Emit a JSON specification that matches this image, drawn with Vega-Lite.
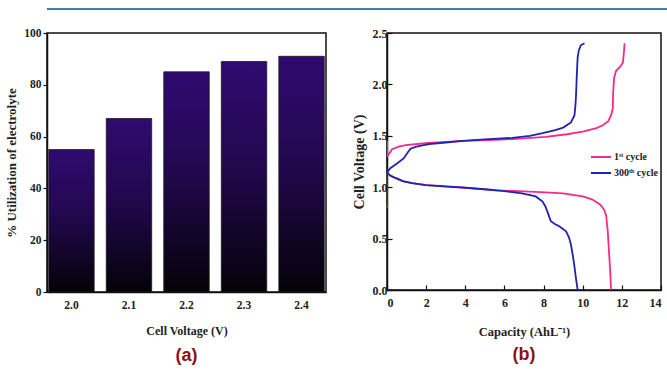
{
  "$schema": "https://vega.github.io/schema/vega-lite/v6.json",
  "background": "white",
  "padding": {"left": 5, "top": 7, "right": 0, "bottom": 0},
  "config": {
    "font": "Liberation Serif",
    "view": {"stroke": "#111", "strokeWidth": 1.5},
    "axis": {
      "grid": false,
      "domainColor": "#111",
      "domainWidth": 1.5,
      "tickColor": "#111",
      "tickWidth": 1.2,
      "labelFont": "Liberation Serif",
      "labelFontWeight": "bold",
      "labelColor": "#222",
      "titleFont": "Liberation Serif",
      "titleFontWeight": "bold",
      "titleColor": "#222"
    }
  },
  "spacing": 16,
  "vconcat": [
    {
      "width": 667,
      "height": 2,
      "data": {"values": [{}]},
      "mark": {"type": "rule", "opacity": 0},
      "encoding": {},
      "view": {"fill": "#4a78a8", "stroke": null}
    },
    {
      "spacing": 24,
      "hconcat": [
        {
          "width": 279,
          "height": 259,
          "data": {
            "values": [
              {"voltage": "2.0", "utilization": 55},
              {"voltage": "2.1", "utilization": 67},
              {"voltage": "2.2", "utilization": 85},
              {"voltage": "2.3", "utilization": 89},
              {"voltage": "2.4", "utilization": 91}
            ]
          },
          "title": {
            "text": "(a)",
            "orient": "bottom",
            "font": "Liberation Sans",
            "fontWeight": "bold",
            "fontSize": 18,
            "color": "#8b1212",
            "offset": 10
          },
          "mark": {
            "type": "bar",
            "stroke": "#1a1a1a",
            "strokeWidth": 0.8,
            "color": {
              "gradient": "linear",
              "x1": 0, "y1": 0, "x2": 0, "y2": 1,
              "stops": [
                {"offset": 0, "color": "#300a70"},
                {"offset": 0.45, "color": "#22084f"},
                {"offset": 1, "color": "#050208"}
              ]
            }
          },
          "encoding": {
            "x": {
              "field": "voltage",
              "type": "ordinal",
              "scale": {"paddingInner": 0.21, "paddingOuter": 0.03},
              "axis": {
                "title": "Cell Voltage (V)",
                "labelAngle": 0,
                "ticks": false,
                "labelPadding": 7,
                "labelFontSize": 11.5,
                "titleFontSize": 12,
                "titlePadding": 15
              }
            },
            "y": {
              "field": "utilization",
              "type": "quantitative",
              "scale": {"domain": [0, 100], "nice": false},
              "axis": {
                "title": "% Utilization of electrolyte",
                "values": [0, 20, 40, 60, 80, 100],
                "tickSize": 4,
                "labelPadding": 2,
                "labelFontSize": 11.5,
                "titleFontSize": 13,
                "titlePadding": 5
              }
            }
          }
        },
        {
          "width": 274,
          "height": 257,
          "data": {
            "values": [
              {"cycle": "1st cycle", "branch": "charge", "i": 1, "capacity": 0, "voltage": 1.45},
              {"cycle": "1st cycle", "branch": "charge", "i": 2, "capacity": 0, "voltage": 1.3},
              {"cycle": "1st cycle", "branch": "charge", "i": 3, "capacity": 0.05, "voltage": 1.31},
              {"cycle": "1st cycle", "branch": "charge", "i": 4, "capacity": 0.26, "voltage": 1.37},
              {"cycle": "1st cycle", "branch": "charge", "i": 5, "capacity": 0.6, "voltage": 1.395},
              {"cycle": "1st cycle", "branch": "charge", "i": 6, "capacity": 0.95, "voltage": 1.41},
              {"cycle": "1st cycle", "branch": "charge", "i": 7, "capacity": 2.1, "voltage": 1.43},
              {"cycle": "1st cycle", "branch": "charge", "i": 8, "capacity": 4.0, "voltage": 1.45},
              {"cycle": "1st cycle", "branch": "charge", "i": 9, "capacity": 5.55, "voltage": 1.46},
              {"cycle": "1st cycle", "branch": "charge", "i": 10, "capacity": 7.0, "voltage": 1.475},
              {"cycle": "1st cycle", "branch": "charge", "i": 11, "capacity": 8.1, "voltage": 1.49},
              {"cycle": "1st cycle", "branch": "charge", "i": 12, "capacity": 9.2, "voltage": 1.515},
              {"cycle": "1st cycle", "branch": "charge", "i": 13, "capacity": 10.0, "voltage": 1.54},
              {"cycle": "1st cycle", "branch": "charge", "i": 14, "capacity": 10.7, "voltage": 1.575},
              {"cycle": "1st cycle", "branch": "charge", "i": 15, "capacity": 11.0, "voltage": 1.6},
              {"cycle": "1st cycle", "branch": "charge", "i": 16, "capacity": 11.3, "voltage": 1.64},
              {"cycle": "1st cycle", "branch": "charge", "i": 17, "capacity": 11.45, "voltage": 1.7},
              {"cycle": "1st cycle", "branch": "charge", "i": 18, "capacity": 11.54, "voltage": 1.77},
              {"cycle": "1st cycle", "branch": "charge", "i": 19, "capacity": 11.55, "voltage": 1.9},
              {"cycle": "1st cycle", "branch": "charge", "i": 20, "capacity": 11.6, "voltage": 2.06},
              {"cycle": "1st cycle", "branch": "charge", "i": 21, "capacity": 11.7, "voltage": 2.13},
              {"cycle": "1st cycle", "branch": "charge", "i": 22, "capacity": 11.9, "voltage": 2.17},
              {"cycle": "1st cycle", "branch": "charge", "i": 23, "capacity": 12.05, "voltage": 2.21},
              {"cycle": "1st cycle", "branch": "charge", "i": 24, "capacity": 12.1, "voltage": 2.3},
              {"cycle": "1st cycle", "branch": "charge", "i": 25, "capacity": 12.14, "voltage": 2.4},
              {"cycle": "1st cycle", "branch": "discharge", "i": 1, "capacity": 0, "voltage": 0.8},
              {"cycle": "1st cycle", "branch": "discharge", "i": 2, "capacity": 0, "voltage": 1.14},
              {"cycle": "1st cycle", "branch": "discharge", "i": 3, "capacity": 0.2, "voltage": 1.11},
              {"cycle": "1st cycle", "branch": "discharge", "i": 4, "capacity": 0.43, "voltage": 1.09},
              {"cycle": "1st cycle", "branch": "discharge", "i": 5, "capacity": 0.8, "voltage": 1.06},
              {"cycle": "1st cycle", "branch": "discharge", "i": 6, "capacity": 1.28, "voltage": 1.04},
              {"cycle": "1st cycle", "branch": "discharge", "i": 7, "capacity": 2.0, "voltage": 1.02},
              {"cycle": "1st cycle", "branch": "discharge", "i": 8, "capacity": 3.0, "voltage": 1.01},
              {"cycle": "1st cycle", "branch": "discharge", "i": 9, "capacity": 4.2, "voltage": 0.99},
              {"cycle": "1st cycle", "branch": "discharge", "i": 10, "capacity": 5.55, "voltage": 0.97},
              {"cycle": "1st cycle", "branch": "discharge", "i": 11, "capacity": 7.0, "voltage": 0.96},
              {"cycle": "1st cycle", "branch": "discharge", "i": 12, "capacity": 8.1, "voltage": 0.95},
              {"cycle": "1st cycle", "branch": "discharge", "i": 13, "capacity": 9.0, "voltage": 0.94},
              {"cycle": "1st cycle", "branch": "discharge", "i": 14, "capacity": 9.5, "voltage": 0.925},
              {"cycle": "1st cycle", "branch": "discharge", "i": 15, "capacity": 10.0, "voltage": 0.91},
              {"cycle": "1st cycle", "branch": "discharge", "i": 16, "capacity": 10.5, "voltage": 0.88},
              {"cycle": "1st cycle", "branch": "discharge", "i": 17, "capacity": 10.9, "voltage": 0.83},
              {"cycle": "1st cycle", "branch": "discharge", "i": 18, "capacity": 11.1, "voltage": 0.78},
              {"cycle": "1st cycle", "branch": "discharge", "i": 19, "capacity": 11.2, "voltage": 0.72},
              {"cycle": "1st cycle", "branch": "discharge", "i": 20, "capacity": 11.28, "voltage": 0.57},
              {"cycle": "1st cycle", "branch": "discharge", "i": 21, "capacity": 11.35, "voltage": 0.35},
              {"cycle": "1st cycle", "branch": "discharge", "i": 22, "capacity": 11.4, "voltage": 0.2},
              {"cycle": "1st cycle", "branch": "discharge", "i": 23, "capacity": 11.45, "voltage": 0.0},
              {"cycle": "300th cycle", "branch": "charge", "i": 1, "capacity": 0, "voltage": 1.14},
              {"cycle": "300th cycle", "branch": "charge", "i": 2, "capacity": 0.17, "voltage": 1.185},
              {"cycle": "300th cycle", "branch": "charge", "i": 3, "capacity": 0.51, "voltage": 1.23},
              {"cycle": "300th cycle", "branch": "charge", "i": 4, "capacity": 0.85, "voltage": 1.28},
              {"cycle": "300th cycle", "branch": "charge", "i": 5, "capacity": 1.03, "voltage": 1.33},
              {"cycle": "300th cycle", "branch": "charge", "i": 6, "capacity": 1.2, "voltage": 1.375},
              {"cycle": "300th cycle", "branch": "charge", "i": 7, "capacity": 1.5, "voltage": 1.395},
              {"cycle": "300th cycle", "branch": "charge", "i": 8, "capacity": 2.14, "voltage": 1.42},
              {"cycle": "300th cycle", "branch": "charge", "i": 9, "capacity": 3.0, "voltage": 1.435},
              {"cycle": "300th cycle", "branch": "charge", "i": 10, "capacity": 3.85, "voltage": 1.45},
              {"cycle": "300th cycle", "branch": "charge", "i": 11, "capacity": 5.0, "voltage": 1.465},
              {"cycle": "300th cycle", "branch": "charge", "i": 12, "capacity": 6.4, "voltage": 1.48},
              {"cycle": "300th cycle", "branch": "charge", "i": 13, "capacity": 7.3, "voltage": 1.5},
              {"cycle": "300th cycle", "branch": "charge", "i": 14, "capacity": 7.95, "voltage": 1.525},
              {"cycle": "300th cycle", "branch": "charge", "i": 15, "capacity": 8.6, "voltage": 1.555},
              {"cycle": "300th cycle", "branch": "charge", "i": 16, "capacity": 9.0, "voltage": 1.58},
              {"cycle": "300th cycle", "branch": "charge", "i": 17, "capacity": 9.4, "voltage": 1.63},
              {"cycle": "300th cycle", "branch": "charge", "i": 18, "capacity": 9.58, "voltage": 1.7},
              {"cycle": "300th cycle", "branch": "charge", "i": 19, "capacity": 9.63, "voltage": 1.8},
              {"cycle": "300th cycle", "branch": "charge", "i": 20, "capacity": 9.66, "voltage": 1.9},
              {"cycle": "300th cycle", "branch": "charge", "i": 21, "capacity": 9.7, "voltage": 2.1},
              {"cycle": "300th cycle", "branch": "charge", "i": 22, "capacity": 9.74, "voltage": 2.26},
              {"cycle": "300th cycle", "branch": "charge", "i": 23, "capacity": 9.8, "voltage": 2.33},
              {"cycle": "300th cycle", "branch": "charge", "i": 24, "capacity": 9.9, "voltage": 2.38},
              {"cycle": "300th cycle", "branch": "charge", "i": 25, "capacity": 10.09, "voltage": 2.4},
              {"cycle": "300th cycle", "branch": "discharge", "i": 1, "capacity": 0, "voltage": 0.82},
              {"cycle": "300th cycle", "branch": "discharge", "i": 2, "capacity": 0, "voltage": 1.14},
              {"cycle": "300th cycle", "branch": "discharge", "i": 3, "capacity": 0.2, "voltage": 1.11},
              {"cycle": "300th cycle", "branch": "discharge", "i": 4, "capacity": 0.43, "voltage": 1.09},
              {"cycle": "300th cycle", "branch": "discharge", "i": 5, "capacity": 0.8, "voltage": 1.06},
              {"cycle": "300th cycle", "branch": "discharge", "i": 6, "capacity": 1.28, "voltage": 1.04},
              {"cycle": "300th cycle", "branch": "discharge", "i": 7, "capacity": 2.0, "voltage": 1.02},
              {"cycle": "300th cycle", "branch": "discharge", "i": 8, "capacity": 3.0, "voltage": 1.005},
              {"cycle": "300th cycle", "branch": "discharge", "i": 9, "capacity": 3.85, "voltage": 0.997},
              {"cycle": "300th cycle", "branch": "discharge", "i": 10, "capacity": 5.0, "voltage": 0.98},
              {"cycle": "300th cycle", "branch": "discharge", "i": 11, "capacity": 5.9, "voltage": 0.964},
              {"cycle": "300th cycle", "branch": "discharge", "i": 12, "capacity": 6.9, "voltage": 0.94},
              {"cycle": "300th cycle", "branch": "discharge", "i": 13, "capacity": 7.6, "voltage": 0.91},
              {"cycle": "300th cycle", "branch": "discharge", "i": 14, "capacity": 7.95, "voltage": 0.86},
              {"cycle": "300th cycle", "branch": "discharge", "i": 15, "capacity": 8.1, "voltage": 0.81},
              {"cycle": "300th cycle", "branch": "discharge", "i": 16, "capacity": 8.2, "voltage": 0.76},
              {"cycle": "300th cycle", "branch": "discharge", "i": 17, "capacity": 8.37, "voltage": 0.67},
              {"cycle": "300th cycle", "branch": "discharge", "i": 18, "capacity": 8.6, "voltage": 0.64},
              {"cycle": "300th cycle", "branch": "discharge", "i": 19, "capacity": 8.8, "voltage": 0.62},
              {"cycle": "300th cycle", "branch": "discharge", "i": 20, "capacity": 9.15, "voltage": 0.57},
              {"cycle": "300th cycle", "branch": "discharge", "i": 21, "capacity": 9.3, "voltage": 0.51},
              {"cycle": "300th cycle", "branch": "discharge", "i": 22, "capacity": 9.4, "voltage": 0.44},
              {"cycle": "300th cycle", "branch": "discharge", "i": 23, "capacity": 9.5, "voltage": 0.33},
              {"cycle": "300th cycle", "branch": "discharge", "i": 24, "capacity": 9.57, "voltage": 0.24},
              {"cycle": "300th cycle", "branch": "discharge", "i": 25, "capacity": 9.65, "voltage": 0.12},
              {"cycle": "300th cycle", "branch": "discharge", "i": 26, "capacity": 9.74, "voltage": 0.0}
            ]
          },
          "title": {
            "text": "(b)",
            "orient": "bottom",
            "font": "Liberation Sans",
            "fontWeight": "bold",
            "fontSize": 18,
            "color": "#8b1212",
            "offset": 8
          },
          "mark": {"type": "line", "strokeWidth": 1.8, "clip": true},
          "encoding": {
            "x": {
              "field": "capacity",
              "type": "quantitative",
              "scale": {"domain": [0, 14], "nice": false},
              "axis": {
                "title": "Capacity (AhL⁻¹)",
                "values": [0, 2, 4, 6, 8, 10, 12, 14],
                "tickSize": -5,
                "labelPadding": 12,
                "labelFontSize": 12,
                "titleFontSize": 12.5,
                "titlePadding": 17
              }
            },
            "y": {
              "field": "voltage",
              "type": "quantitative",
              "scale": {"domain": [0, 2.5], "nice": false},
              "axis": {
                "title": "Cell Voltage (V)",
                "values": [0, 0.5, 1, 1.5, 2, 2.5],
                "format": ".1f",
                "tickSize": -5,
                "labelPadding": 5,
                "labelFontSize": 12,
                "titleFontSize": 14,
                "titlePadding": 6
              }
            },
            "color": {
              "field": "cycle",
              "type": "nominal",
              "scale": {"domain": ["1st cycle", "300th cycle"], "range": ["#f52a8e", "#2222b0"]},
              "legend": {
                "title": null,
                "orient": "none",
                "legendX": 543,
                "legendY": 138,
                "symbolType": "stroke",
                "symbolStrokeWidth": 2,
                "symbolSize": 400,
                "labelOffset": 2,
                "labelFont": "Liberation Serif",
                "labelFontWeight": "bold",
                "labelFontSize": 10,
                "labelColor": "#222",
                "rowPadding": 0,
                "labelExpr": "datum.label == '1st cycle' ? '1ˢᵗ cycle' : '300ᵗʰ cycle'"
              }
            },
            "detail": {"field": "branch"},
            "order": {"field": "i", "type": "quantitative"}
          }
        }
      ]
    }
  ]
}
